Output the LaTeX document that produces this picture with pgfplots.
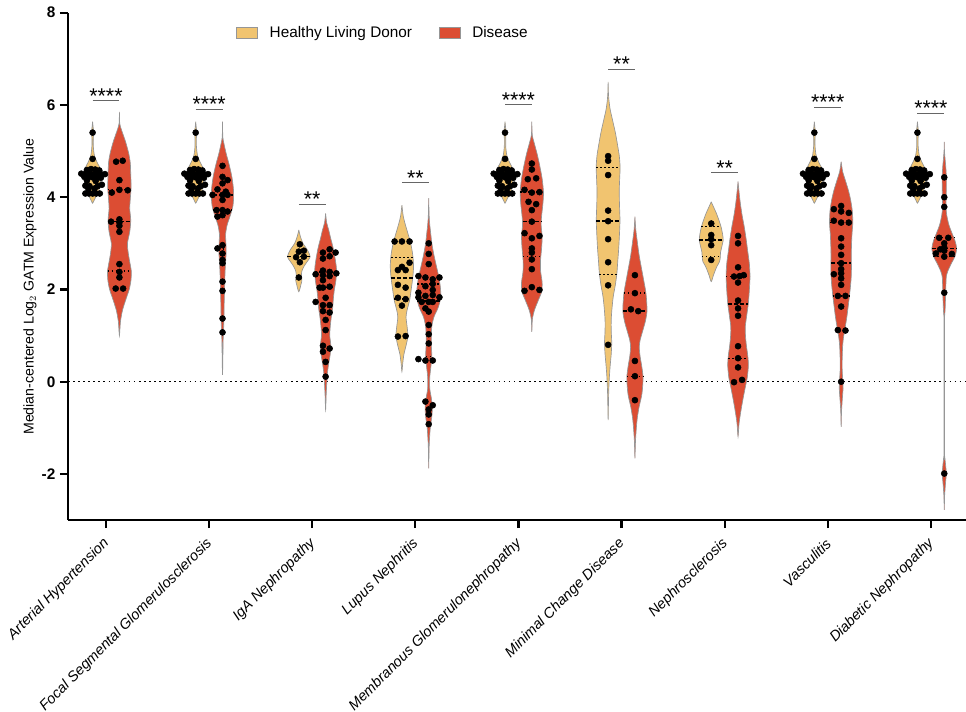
\documentclass[border=0pt]{standalone}
\usepackage{fontspec}
\setmainfont{Liberation Sans}
\usepackage{pgfplots}
\usepackage{pgfplotstable}
\pgfplotsset{compat=1.18}
\definecolor{hcol}{RGB}{241,196,112}
\definecolor{dcol}{RGB}{220,77,51}
\definecolor{vline}{RGB}{150,150,150}
\tikzset{med/.style={black,line width=1.1pt,dash pattern=on 3pt off 1.6pt},
         qrt/.style={black,line width=1.0pt,dash pattern=on 1pt off 2pt}}

% violin: #1 centre, #2 fill colour, #3 profile macro (value/half-width, top to bottom)
\newcommand{\violin}[3]{%
  \gdef\vR{}\gdef\vL{}\global\let\vtop\relax
  \foreach \yy/\ww in #3 {%
    \pgfmathsetmacro\vxr{#1+\ww}\pgfmathsetmacro\vxl{#1-\ww}%
    \ifx\vtop\relax\xdef\vtop{\yy}\fi
    \xdef\vR{\vR(\vxr,\yy)}%
    \ifdim\ww pt>0pt \xdef\vL{(\vxl,\yy)\vL}\fi
  }%
  \edef\vtmp{\noexpand\addplot[fill=#2,draw=vline,line width=0.5pt,smooth,tension=0.45,forget plot] coordinates {\vR\vL(#1,\vtop)};}%
  \vtmp
}
% horizontal segment: centre, value, half-width, style
\newcommand{\hseg}[4]{%
  \pgfmathsetmacro\vxa{#1-#3}\pgfmathsetmacro\vxb{#1+#3}%
  \edef\vtmp{\noexpand\addplot[#4,forget plot] coordinates {(\vxa,#2)(\vxb,#2)};}%
  \vtmp
}
\newcommand{\pts}[2]{%
  \addplot[only marks,mark=*,mark size=2.25pt,black,forget plot] table[x expr={#1+\thisrow{o}},y=v] {#2};
}

% ---------- violin profiles (value/half-width) ----------
\def\profHS{5.64/0, 5.50/0.006, 5.40/0.012, 5.30/0.007, 5.10/0.007, 4.90/0.018, 4.75/0.045, 4.62/0.075, 4.50/0.09, 4.40/0.085, 4.30/0.07, 4.20/0.065, 4.10/0.055, 4.00/0.03, 3.92/0.012, 3.87/0}
\def\profAH{5.85/0, 5.60/0.003, 5.46/0.02, 5.20/0.06, 4.95/0.09, 4.75/0.105, 4.50/0.11, 4.20/0.113, 3.95/0.105, 3.75/0.10, 3.50/0.11, 3.25/0.10, 3.00/0.078, 2.80/0.085, 2.60/0.10, 2.40/0.115, 2.20/0.112, 2.00/0.095, 1.80/0.065, 1.55/0.03, 1.30/0.01, 1.00/0}
\def\profFS{5.64/0, 5.30/0.003, 5.15/0.015, 4.95/0.035, 4.70/0.065, 4.45/0.09, 4.20/0.105, 4.00/0.108, 3.80/0.1, 3.60/0.075, 3.40/0.045, 3.20/0.03, 3.00/0.033, 2.80/0.035, 2.60/0.03, 2.40/0.025, 2.20/0.022, 2.00/0.02, 1.70/0.016, 1.40/0.014, 1.10/0.01, 0.90/0.006, 0.60/0.004, 0.15/0}
\def\profIGh{3.29/0, 3.15/0.015, 3.00/0.04, 2.85/0.085, 2.71/0.11, 2.60/0.08, 2.50/0.05, 2.40/0.03, 2.30/0.025, 2.20/0.03, 2.10/0.02, 1.95/0}
\def\profIGd{3.65/0, 3.45/0.01, 3.29/0.03, 3.10/0.05, 2.93/0.07, 2.70/0.09, 2.45/0.105, 2.20/0.1, 2.00/0.085, 1.80/0.075, 1.60/0.068, 1.40/0.055, 1.20/0.045, 1.00/0.04, 0.80/0.05, 0.60/0.045, 0.40/0.03, 0.20/0.018, 0.00/0.012, -0.25/0.006, -0.61/0}
\def\profLNh{3.83/0, 3.60/0.012, 3.43/0.03, 3.20/0.06, 3.00/0.085, 2.75/0.105, 2.50/0.113, 2.25/0.105, 2.00/0.09, 1.77/0.075, 1.55/0.05, 1.40/0.04, 1.20/0.05, 1.00/0.058, 0.83/0.045, 0.60/0.02, 0.40/0.008, 0.22/0}
\def\profLNd{3.98/0, 3.60/0.004, 3.40/0.01, 3.20/0.02, 3.00/0.03, 2.75/0.05, 2.50/0.075, 2.25/0.1, 2.00/0.115, 1.80/0.115, 1.60/0.09, 1.40/0.05, 1.20/0.03, 1.00/0.025, 0.80/0.025, 0.55/0.03, 0.35/0.022, 0.10/0.01, -0.15/0.01, -0.35/0.025, -0.55/0.035, -0.75/0.03, -1.00/0.015, -1.30/0.006, -1.50/0.003, -1.88/0}
\def\profMG{5.64/0, 5.35/0.004, 5.20/0.02, 4.95/0.05, 4.70/0.075, 4.40/0.1, 4.10/0.113, 3.85/0.107, 3.60/0.095, 3.40/0.09, 3.15/0.1, 2.90/0.095, 2.65/0.085, 2.40/0.085, 2.15/0.1, 1.95/0.095, 1.75/0.06, 1.55/0.025, 1.35/0.005, 1.08/0}
\def\profMCh{6.50/0, 6.25/0.003, 6.10/0.008, 5.90/0.02, 5.65/0.045, 5.40/0.07, 5.15/0.09, 4.90/0.108, 4.65/0.116, 4.40/0.112, 4.15/0.108, 3.85/0.11, 3.50/0.115, 3.20/0.11, 2.90/0.103, 2.60/0.093, 2.35/0.085, 2.10/0.07, 1.85/0.05, 1.60/0.038, 1.35/0.03, 1.10/0.03, 0.85/0.035, 0.60/0.03, 0.35/0.02, 0.10/0.012, -0.20/0.006, -0.50/0.003, -0.83/0}
\def\profMCd{3.58/0, 3.30/0.008, 3.05/0.022, 2.75/0.04, 2.50/0.06, 2.20/0.085, 1.95/0.105, 1.70/0.115, 1.50/0.116, 1.30/0.1, 1.10/0.075, 0.90/0.05, 0.75/0.042, 0.55/0.05, 0.35/0.065, 0.12/0.078, -0.10/0.075, -0.30/0.065, -0.55/0.04, -0.80/0.022, -1.05/0.012, -1.30/0.005, -1.66/0}
\def\profNSh{3.90/0, 3.80/0.02, 3.65/0.05, 3.50/0.075, 3.36/0.095, 3.20/0.11, 3.07/0.116, 2.95/0.105, 2.80/0.09, 2.70/0.088, 2.60/0.08, 2.50/0.055, 2.42/0.04, 2.30/0.02, 2.17/0}
\def\profNSd{4.34/0, 4.15/0.008, 3.87/0.022, 3.60/0.04, 3.36/0.06, 3.10/0.078, 2.86/0.092, 2.55/0.11, 2.28/0.116, 2.00/0.11, 1.70/0.1, 1.45/0.085, 1.19/0.07, 1.00/0.072, 0.80/0.08, 0.55/0.095, 0.35/0.1, 0.10/0.09, -0.10/0.072, -0.35/0.05, -0.60/0.03, -0.90/0.01, -1.19/0}
\def\profVA{4.77/0, 4.55/0.015, 4.37/0.04, 4.15/0.07, 3.94/0.092, 3.70/0.108, 3.45/0.113, 3.20/0.105, 2.93/0.1, 2.70/0.098, 2.49/0.1, 2.25/0.097, 2.06/0.09, 1.85/0.08, 1.63/0.068, 1.40/0.055, 1.19/0.04, 0.95/0.022, 0.76/0.014, 0.50/0.01, 0.25/0.01, 0.05/0.015, -0.15/0.018, -0.35/0.012, -0.55/0.006, -0.69/0.003, -0.98/0}
\def\profDN{5.20/0, 5.00/0.002, 4.88/0.006, 4.65/0.015, 4.44/0.02, 4.20/0.02, 4.00/0.018, 3.79/0.016, 3.60/0.025, 3.40/0.045, 3.22/0.075, 3.05/0.105, 2.89/0.12, 2.72/0.105, 2.57/0.07, 2.40/0.035, 2.28/0.02, 2.05/0.015, 1.80/0.012, 1.55/0.008, 1.41/0.003, 1.20/0.002, -1.50/0.002, -1.65/0.006, -1.85/0.015, -2.00/0.02, -2.20/0.012, -2.45/0.004, -2.60/0.002, -2.78/0}

% ---------- data points (o = offset from violin centre, v = value) ----------
\pgfplotstableread[row sep=\\]{o v\\ 0 5.40\\ 0 4.83\\ -0.055 4.59\\ -0.015 4.61\\ 0.025 4.60\\ 0.065 4.58\\ -0.11 4.51\\ -0.07 4.50\\ -0.03 4.50\\ 0.01 4.49\\ 0.05 4.50\\ 0.09 4.49\\ 0.12 4.50\\ -0.08 4.44\\ -0.04 4.44\\ 0.0 4.43\\ 0.04 4.42\\ 0.08 4.42\\ -0.055 4.36\\ 0.03 4.35\\ -0.07 4.25\\ -0.03 4.24\\ 0.05 4.24\\ 0.09 4.27\\ -0.04 4.18\\ 0.02 4.19\\ -0.07 4.08\\ -0.035 4.08\\ 0.0 4.08\\ 0.035 4.08\\ 0.07 4.08\\}\tHS
\pgfplotstableread[row sep=\\]{o v\\ -0.032 4.77\\ 0.032 4.79\\ 0 4.37\\ -0.074 4.10\\ 0 4.16\\ 0.081 4.15\\ -0.081 3.47\\ 0 3.52\\ 0 3.45\\ 0 3.38\\ 0 3.25\\ 0 2.55\\ 0 2.38\\ 0 2.26\\ -0.036 2.02\\ 0.036 2.02\\}\tAH
\pgfplotstableread[row sep=\\]{o v\\ 0 4.68\\ 0 4.44\\ 0.049 4.37\\ 0 4.30\\ -0.049 4.17\\ 0.032 4.12\\ -0.097 4.05\\ 0 4.05\\ 0.049 4.05\\ 0 3.94\\ -0.058 3.72\\ 0 3.72\\ 0.049 3.69\\ -0.049 3.58\\ 0 3.61\\ -0.049 2.89\\ 0 2.96\\ 0 2.78\\ 0 2.64\\ 0 2.57\\ 0 2.17\\ 0 1.97\\ 0 1.37\\ 0 1.07\\}\tFS
\pgfplotstableread[row sep=\\]{o v\\ 0.01 2.98\\ 0 2.82\\ 0.049 2.84\\ -0.026 2.70\\ 0.049 2.71\\ 0.01 2.59\\ 0 2.26\\}\tIGh
\pgfplotstableread[row sep=\\]{o v\\ -0.026 2.80\\ 0.039 2.87\\ 0.097 2.80\\ -0.026 2.67\\ 0.039 2.72\\ -0.026 2.41\\ 0.039 2.38\\ -0.097 2.33\\ -0.026 2.31\\ 0.104 2.35\\ 0.039 2.29\\ -0.026 2.20\\ -0.058 2.04\\ -0.026 2.04\\ 0.039 2.06\\ 0 1.82\\ -0.097 1.73\\ -0.026 1.66\\ 0.039 1.66\\ -0.026 1.53\\ 0.039 1.50\\ 0 1.34\\ 0 1.12\\ -0.026 0.78\\ -0.026 0.65\\ 0.039 0.72\\ 0 0.43\\ 0 0.11\\}\tIGd
\pgfplotstableread[row sep=\\]{o v\\ -0.071 3.04\\ 0 3.04\\ 0.074 3.04\\ 0.074 2.58\\ -0.039 2.42\\ 0.036 2.42\\ 0 2.49\\ -0.039 2.10\\ 0.036 2.04\\ -0.039 1.82\\ 0.036 1.79\\ 0 1.65\\ -0.039 0.98\\ 0.036 0.99\\}\tLNh
\pgfplotstableread[row sep=\\]{o v\\ 0 3.0\\ 0 2.77\\ 0 2.55\\ -0.1 2.29\\ 0.104 2.26\\ -0.032 2.26\\ 0.039 2.22\\ -0.032 2.07\\ 0.039 2.12\\ 0.039 1.99\\ -0.1 1.93\\ -0.1 1.83\\ -0.032 1.86\\ 0.039 1.88\\ 0.104 1.83\\ -0.068 1.73\\ 0 1.73\\ 0.039 1.73\\ -0.032 1.59\\ 0 1.52\\ 0 1.23\\ 0 1.03\\ 0 0.83\\ -0.1 0.49\\ -0.032 0.46\\ 0.039 0.46\\ -0.032 -0.43\\ 0.039 -0.51\\ 0 -0.60\\ 0 -0.71\\ 0 -0.92\\}\tLNd
\pgfplotstableread[row sep=\\]{o v\\ 0 4.73\\ 0 4.60\\ -0.039 4.39\\ 0.042 4.41\\ -0.071 4.16\\ 0 4.10\\ 0.074 4.11\\ -0.032 3.90\\ 0.042 3.85\\ 0 3.72\\ 0 3.47\\ -0.071 3.22\\ 0 3.11\\ 0.074 3.16\\ 0 2.89\\ 0 2.80\\ 0 2.65\\ 0 2.44\\ -0.071 1.97\\ 0 2.05\\ 0.074 1.99\\}\tMG
\pgfplotstableread[row sep=\\]{o v\\ 0 4.89\\ 0 4.79\\ 0 4.48\\ 0 3.71\\ 0 3.48\\ 0 3.09\\ 0 2.59\\ 0 2.09\\ 0 0.80\\}\tMCh
\pgfplotstableread[row sep=\\]{o v\\ 0 2.31\\ 0 1.92\\ -0.039 1.57\\ 0.032 1.53\\ 0 0.45\\ 0 0.12\\ 0 -0.40\\}\tMCd
\pgfplotstableread[row sep=\\]{o v\\ 0 3.43\\ 0 3.18\\ 0 3.09\\ 0 2.96\\ 0 2.64\\}\tNSh
\pgfplotstableread[row sep=\\]{o v\\ 0 3.16\\ 0 3.00\\ 0 2.48\\ -0.039 2.28\\ 0.016 2.29\\ 0.055 2.31\\ 0 2.15\\ 0 1.76\\ 0 1.59\\ 0 1.43\\ 0 0.77\\ 0 0.51\\ 0 0.31\\ -0.039 -0.01\\ 0.039 0.04\\}\tNSd
\pgfplotstableread[row sep=\\]{o v\\ -0.071 3.74\\ 0 3.81\\ 0 3.69\\ 0.074 3.66\\ -0.071 3.49\\ 0 3.45\\ 0.074 3.45\\ 0 3.11\\ 0 2.93\\ 0 2.75\\ 0 2.57\\ 0 2.44\\ 0 2.35\\ -0.071 2.33\\ 0 2.24\\ 0 2.10\\ -0.032 1.86\\ 0.042 1.86\\ 0 1.63\\ -0.032 1.12\\ 0.042 1.11\\ 0 0.00\\}\tVA
\pgfplotstableread[row sep=\\]{o v\\ 0 4.43\\ 0 4.00\\ 0 3.79\\ -0.049 3.12\\ 0.039 3.12\\ 0 3.0\\ 0 2.91\\ 0 2.84\\ 0 2.71\\ -0.081 2.78\\ 0.074 2.77\\ -0.039 2.87\\ 0 1.93\\ 0 -1.99\\}\tDN

\begin{document}
\begin{tikzpicture}
\begin{axis}[
  scale only axis, width=673.5pt, height=380.6pt,
  xmin=-0.3686, xmax=8.341, ymin=-3, ymax=8,
  axis x line*=bottom, axis y line*=left,
  axis line style={-, line width=1.7pt, black},
  major tick style={line width=1.7pt, black},
  major tick length=6pt, tick align=outside,
  xtick={0,...,8},
  xticklabels={Arterial Hypertension, Focal Segmental Glomerulosclerosis, IgA Nephropathy, Lupus Nephritis, Membranous Glomerulonephropathy, Minimal Change Disease, Nephrosclerosis, Vasculitis, Diabetic Nephropathy},
  xticklabel style={rotate=45, anchor=east, xshift=-3.2pt, yshift=-7.4pt, font=\fontsize{10.9}{12}\selectfont\itshape},
  ytick={-2,0,2,4,6,8},
  yticklabels={\textbf{-2},\textbf{0},\textbf{2},\textbf{4},\textbf{6},\textbf{8}},
  yticklabel style={font=\fontsize{11.5}{13}\selectfont},
  ylabel={Median-centered Log$_2$ GATM Expression Value},
  ylabel style={font=\fontsize{10.6}{12}\selectfont, at={(axis description cs:-0.0423,0.46)}, anchor=center},
  clip=false,
  legend style={draw=none, fill=none, at={(axis description cs:0.187,0.96)}, anchor=west,
     font=\fontsize{11.5}{13}\selectfont, inner xsep=0pt, inner ysep=0pt,
     /tikz/every odd column/.append style={column sep=7pt},
     /tikz/every even column/.append style={column sep=18pt}},
  legend columns=2,
  legend image code/.code={\draw[#1] (0cm,-0.145cm) rectangle (0.55cm,0.145cm);},
]
\addlegendimage{fill=hcol, draw=vline, line width=0.5pt}
\addlegendentry{Healthy Living Donor}
\addlegendimage{fill=dcol, draw=vline, line width=0.5pt}
\addlegendentry{Disease}

% zero line
\addplot[black, line width=1.1pt, dash pattern=on 1.2pt off 2.6pt, forget plot] coordinates {(-0.3686,0) (8.341,0)};

% ---- Arterial Hypertension
\violin{-0.13}{hcol}{\profHS}
\violin{0.13}{dcol}{\profAH}
\hseg{0.13}{3.47}{0.11}{med}\hseg{0.13}{4.16}{0.113}{qrt}\hseg{0.13}{2.40}{0.115}{qrt}
\pts{-0.13}{\tHS}\pts{0.13}{\tAH}
% ---- FSGS
\violin{0.87}{hcol}{\profHS}
\violin{1.13}{dcol}{\profFS}
\hseg{1.13}{3.72}{0.095}{med}\hseg{1.13}{4.05}{0.108}{qrt}\hseg{1.13}{2.88}{0.035}{qrt}
\pts{0.87}{\tHS}\pts{1.13}{\tFS}
% ---- IgA
\violin{1.87}{hcol}{\profIGh}
\violin{2.13}{dcol}{\profIGd}
\hseg{1.87}{2.71}{0.11}{med}
\hseg{2.13}{2.04}{0.085}{med}\hseg{2.13}{2.38}{0.1}{qrt}
\pts{1.87}{\tIGh}\pts{2.13}{\tIGd}
% ---- Lupus
\violin{2.87}{hcol}{\profLNh}
\violin{3.13}{dcol}{\profLNd}
\hseg{2.87}{2.25}{0.105}{med}\hseg{2.87}{2.69}{0.103}{qrt}\hseg{2.87}{1.79}{0.075}{qrt}
\hseg{3.13}{1.75}{0.11}{med}\hseg{3.13}{2.12}{0.11}{qrt}\hseg{3.13}{0.55}{0.03}{qrt}
\pts{2.87}{\tLNh}\pts{3.13}{\tLNd}
% ---- MGN
\violin{3.87}{hcol}{\profHS}
\violin{4.13}{dcol}{\profMG}
\hseg{4.13}{3.47}{0.09}{med}\hseg{4.13}{4.11}{0.113}{qrt}\hseg{4.13}{2.72}{0.088}{qrt}
\pts{3.87}{\tHS}\pts{4.13}{\tMG}
% ---- MCD
\violin{4.87}{hcol}{\profMCh}
\violin{5.13}{dcol}{\profMCd}
\hseg{4.87}{3.48}{0.115}{med}\hseg{4.87}{4.64}{0.116}{qrt}\hseg{4.87}{2.33}{0.085}{qrt}
\hseg{5.13}{1.53}{0.116}{med}\hseg{5.13}{1.92}{0.105}{qrt}\hseg{5.13}{0.12}{0.078}{qrt}
\pts{4.87}{\tMCh}\pts{5.13}{\tMCd}
% ---- Nephrosclerosis
\violin{5.87}{hcol}{\profNSh}
\violin{6.13}{dcol}{\profNSd}
\hseg{5.87}{3.07}{0.116}{med}\hseg{5.87}{3.37}{0.095}{qrt}\hseg{5.87}{2.71}{0.088}{qrt}
\hseg{6.13}{1.68}{0.1}{med}\hseg{6.13}{2.28}{0.116}{qrt}\hseg{6.13}{0.51}{0.095}{qrt}
\pts{5.87}{\tNSh}\pts{6.13}{\tNSd}
% ---- Vasculitis
\violin{6.87}{hcol}{\profHS}
\violin{7.13}{dcol}{\profVA}
\hseg{7.13}{2.57}{0.1}{med}\hseg{7.13}{3.45}{0.113}{qrt}\hseg{7.13}{1.86}{0.08}{qrt}
\pts{6.87}{\tHS}\pts{7.13}{\tVA}
% ---- Diabetic Nephropathy
\violin{7.87}{hcol}{\profHS}
\violin{8.13}{dcol}{\profDN}
\hseg{8.13}{2.89}{0.12}{med}\hseg{8.13}{3.12}{0.1}{qrt}\hseg{8.13}{2.72}{0.105}{qrt}
\pts{7.87}{\tHS}\pts{8.13}{\tDN}

% significance bars
\addplot[gray!80!black, line width=0.8pt, forget plot] coordinates {(-0.13,6.09) (0.13,6.09)};
\addplot[gray!80!black, line width=0.8pt, forget plot] coordinates {(0.87,5.91) (1.13,5.91)};
\addplot[gray!80!black, line width=0.8pt, forget plot] coordinates {(1.87,3.85) (2.13,3.85)};
\addplot[gray!80!black, line width=0.8pt, forget plot] coordinates {(2.87,4.31) (3.13,4.31)};
\addplot[gray!80!black, line width=0.8pt, forget plot] coordinates {(3.87,6.00) (4.13,6.00)};
\addplot[gray!80!black, line width=0.8pt, forget plot] coordinates {(4.87,6.77) (5.13,6.77)};
\addplot[gray!80!black, line width=0.8pt, forget plot] coordinates {(5.87,4.53) (6.13,4.53)};
\addplot[gray!80!black, line width=0.8pt, forget plot] coordinates {(6.87,5.95) (7.13,5.95)};
\addplot[gray!80!black, line width=0.8pt, forget plot] coordinates {(7.87,5.82) (8.13,5.82)};
\begin{scope}[every node/.style={anchor=base, inner sep=0pt, font=\fontsize{16}{17}\selectfont}]
\node at (axis cs:0,6.04) {****};
\node at (axis cs:1,5.86) {****};
\node at (axis cs:2,3.80) {**};
\node at (axis cs:3,4.26) {**};
\node at (axis cs:4,5.95) {****};
\node at (axis cs:5,6.72) {**};
\node at (axis cs:6,4.48) {**};
\node at (axis cs:7,5.90) {****};
\node at (axis cs:8,5.77) {****};
\end{scope}
\end{axis}
\pgfresetboundingbox
\path[use as bounding box] (-51pt,-143.9pt) rectangle (673.5pt,390.1pt);
\end{tikzpicture}
\end{document}
